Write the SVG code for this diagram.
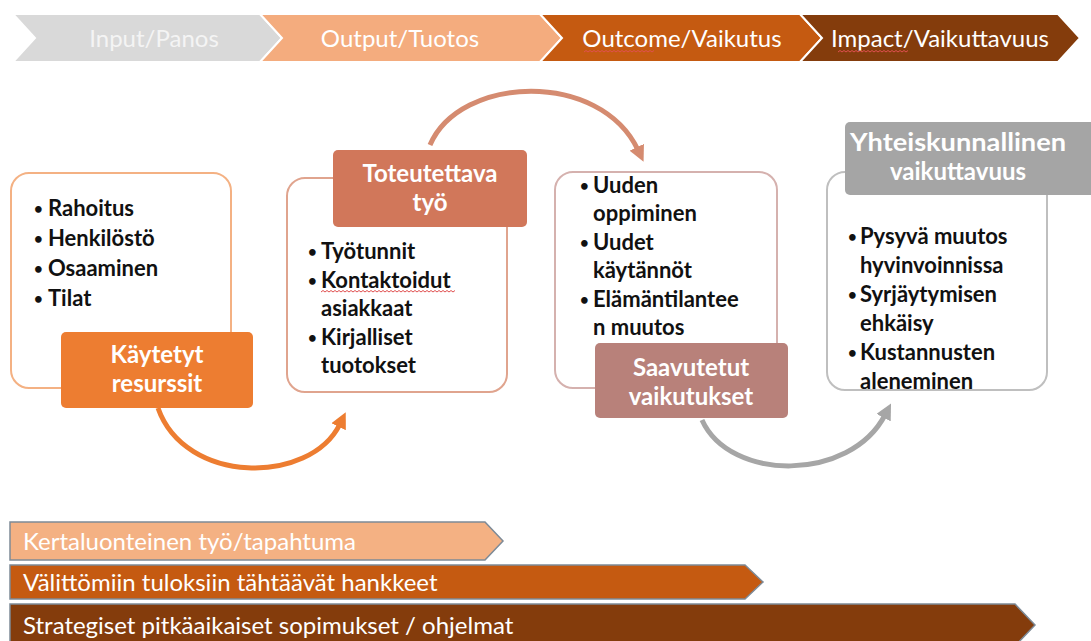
<svg xmlns="http://www.w3.org/2000/svg" width="1091" height="641" viewBox="0 0 1091 641">
<style>
.bar{font-family:Lato,"Open Sans","Liberation Sans",sans-serif;font-size:24px;fill:#ffffff}
.bt{font-family:Lato,"Open Sans","Liberation Sans",sans-serif;font-size:22px;font-weight:bold;fill:#111111}
.dot{font-size:15px}
.lb{font-family:Lato,"Open Sans","Liberation Sans",sans-serif;font-size:24px;font-weight:bold;fill:#ffffff;text-anchor:middle}
.card{fill:#ffffff;stroke-width:2}
.squig{fill:none;stroke:#e05050;stroke-width:1}
.conn{fill:none;stroke-width:5}
</style>
<defs>
<marker id="aOr" markerUnits="userSpaceOnUse" markerWidth="16" markerHeight="16" refX="3" refY="8" orient="auto"><path d="M0,0 L16,8 L0,16 z" fill="#ed7d31"/></marker>
<marker id="aSa" markerUnits="userSpaceOnUse" markerWidth="16" markerHeight="16" refX="3" refY="8" orient="auto"><path d="M0,0 L16,8 L0,16 z" fill="#d58b70"/></marker>
<marker id="aGr" markerUnits="userSpaceOnUse" markerWidth="16" markerHeight="16" refX="3" refY="8" orient="auto"><path d="M0,0 L16,8 L0,16 z" fill="#a6a6a6"/></marker>
</defs>
<rect width="1091" height="641" fill="#ffffff"/>

<g id="phases">
<path d="M13,14 L260,14 L282,38 L260,62 L13,62 L35,38 Z" fill="#d9d9d9" stroke="#ffffff" stroke-width="2"/>
<path d="M260,14 L540,14 L562,38 L540,62 L260,62 L282,38 Z" fill="#f4ac7e" stroke="#ffffff" stroke-width="2"/>
<path d="M540,14 L800,14 L822,38 L800,62 L540,62 L562,38 Z" fill="#c55a11" stroke="#ffffff" stroke-width="2"/>
<path d="M800,14 L1058,14 L1080,38 L1058,62 L800,62 L822,38 Z" fill="#843c0c" stroke="#ffffff" stroke-width="2"/>
<text class="bar" x="154" y="47" text-anchor="middle" style="fill:#f4f4f4">Input/Panos</text>
<text class="bar" x="400" y="47" text-anchor="middle">Output/Tuotos</text>
<text class="bar" x="682" y="47" text-anchor="middle">Outcome/Vaikutus</text>
<text class="bar" x="940" y="47" text-anchor="middle">Impact/Vaikuttavuus</text>
<path class="squig" d="M584,52 l2,-1.5 l2,1.5 l2,-1.5 l2,1.5 l2,-1.5 l2,1.5 l2,-1.5 l2,1.5 l2,-1.5 l2,1.5 l2,-1.5 l2,1.5 l2,-1.5 l2,1.5 l2,-1.5 l2,1.5 l2,-1.5 l2,1.5 l2,-1.5 l2,1.5 l2,-1.5 l2,1.5 l2,-1.5 l2,1.5 l2,-1.5 l2,1.5 l2,-1.5 l2,1.5 l2,-1.5 l2,1.5 l2,-1.5 l2,1.5 l2,-1.5 l2,1.5 l2,-1.5"/>
<path class="squig" d="M838,52 l2,-1.5 l2,1.5 l2,-1.5 l2,1.5 l2,-1.5 l2,1.5 l2,-1.5 l2,1.5 l2,-1.5 l2,1.5 l2,-1.5 l2,1.5 l2,-1.5 l2,1.5 l2,-1.5 l2,1.5 l2,-1.5 l2,1.5 l2,-1.5 l2,1.5 l2,-1.5 l2,1.5 l2,-1.5 l2,1.5 l2,-1.5 l2,1.5 l2,-1.5 l2,1.5 l2,-1.5 l2,1.5 l2,-1.5 l2,1.5 l2,-1.5 l2,1.5 l2,-1.5"/>
</g>

<g id="connectors">
<path class="conn" d="M158,408 C185,485 310,485 340,424" stroke="#ed7d31" marker-end="url(#aOr)"/>
<path class="conn" d="M430,145 C460,75 600,70 638,150" stroke="#d58b70" marker-end="url(#aSa)"/>
<path class="conn" d="M702,420 C730,482 850,482 885,415" stroke="#a6a6a6" marker-end="url(#aGr)"/>
</g>

<g id="node-resources">
<rect class="card" x="11" y="173" width="220" height="215" rx="18" stroke="#f4b183"/>
<text class="bt"><tspan class="dot" x="34" y="214">•</tspan><tspan x="48" y="216">Rahoitus</tspan></text>
<text class="bt"><tspan class="dot" x="34" y="244">•</tspan><tspan x="48" y="246">Henkilöstö</tspan></text>
<text class="bt"><tspan class="dot" x="34" y="274">•</tspan><tspan x="48" y="276">Osaaminen</tspan></text>
<text class="bt"><tspan class="dot" x="34" y="304">•</tspan><tspan x="48" y="306">Tilat</tspan></text>
<rect x="61" y="332" width="192" height="76" rx="5" fill="#ed7d31"/>
<text class="lb" x="157" y="363">Käytetyt</text>
<text class="lb" x="157" y="392">resurssit</text>
</g>

<g id="node-work">
<rect class="card" x="287" y="178" width="220" height="214" rx="18" stroke="#e0a48e"/>
<rect x="333" y="150" width="194" height="77" rx="5" fill="#d1775a"/>
<text class="lb" x="430" y="182">Toteutettava</text>
<text class="lb" x="430" y="211">työ</text>
<text class="bt"><tspan class="dot" x="308" y="257">•</tspan><tspan x="321" y="259">Työtunnit</tspan></text>
<text class="bt"><tspan class="dot" x="308" y="286">•</tspan><tspan x="321" y="288">Kontaktoidut</tspan></text>
<text class="bt" x="321" y="316">asiakkaat</text>
<text class="bt"><tspan class="dot" x="308" y="343">•</tspan><tspan x="321" y="345">Kirjalliset</tspan></text>
<text class="bt" x="321" y="373">tuotokset</text>
<path class="squig" d="M321,292 l2,-1.5 l2,1.5 l2,-1.5 l2,1.5 l2,-1.5 l2,1.5 l2,-1.5 l2,1.5 l2,-1.5 l2,1.5 l2,-1.5 l2,1.5 l2,-1.5 l2,1.5 l2,-1.5 l2,1.5 l2,-1.5 l2,1.5 l2,-1.5 l2,1.5 l2,-1.5 l2,1.5 l2,-1.5 l2,1.5 l2,-1.5 l2,1.5 l2,-1.5 l2,1.5 l2,-1.5 l2,1.5 l2,-1.5 l2,1.5 l2,-1.5 l2,1.5 l2,-1.5 l2,1.5 l2,-1.5 l2,1.5 l2,-1.5 l2,1.5 l2,-1.5 l2,1.5 l2,-1.5 l2,1.5 l2,-1.5 l2,1.5 l2,-1.5 l2,1.5 l2,-1.5 l2,1.5 l2,-1.5 l2,1.5 l2,-1.5 l2,1.5 l2,-1.5 l2,1.5 l2,-1.5 l2,1.5 l2,-1.5 l2,1.5 l2,-1.5 l2,1.5 l2,-1.5 l2,1.5 l2,-1.5 l2,1.5 l2,-1.5"/>
</g>

<g id="node-outcomes">
<rect class="card" x="555" y="172" width="222" height="216" rx="18" stroke="#d5b1ae"/>
<text class="bt"><tspan class="dot" x="580" y="191">•</tspan><tspan x="593" y="193">Uuden</tspan></text>
<text class="bt" x="593" y="221">oppiminen</text>
<text class="bt"><tspan class="dot" x="580" y="248">•</tspan><tspan x="593" y="250">Uudet</tspan></text>
<text class="bt" x="593" y="278">käytännöt</text>
<text class="bt"><tspan class="dot" x="580" y="305">•</tspan><tspan x="593" y="307">Elämäntilantee</tspan></text>
<text class="bt" x="593" y="335">n muutos</text>
<rect x="595" y="343" width="193" height="75" rx="5" fill="#b8817a"/>
<text class="lb" x="691" y="376">Saavutetut</text>
<text class="lb" x="691" y="405">vaikutukset</text>
</g>

<g id="node-impact">
<rect class="card" x="827" y="172" width="220" height="218" rx="18" stroke="#bfbfbf"/>
<rect x="845" y="122" width="252" height="73" rx="5" fill="#a5a5a5"/>
<text class="lb" x="958" y="151" textLength="216" lengthAdjust="spacingAndGlyphs">Yhteiskunnallinen</text>
<text class="lb" x="958" y="180">vaikuttavuus</text>
<text class="bt"><tspan class="dot" x="848" y="242">•</tspan><tspan x="860" y="244">Pysyvä muutos</tspan></text>
<text class="bt" x="860" y="273">hyvinvoinnissa</text>
<text class="bt"><tspan class="dot" x="848" y="300">•</tspan><tspan x="860" y="302">Syrjäytymisen</tspan></text>
<text class="bt" x="860" y="331">ehkäisy</text>
<text class="bt"><tspan class="dot" x="848" y="358">•</tspan><tspan x="860" y="360">Kustannusten</tspan></text>
<text class="bt" x="860" y="389">aleneminen</text>
</g>

<g id="scopes">
<path d="M10,522 L485,522 L503,541 L485,560 L10,560 Z" fill="#f4b183" stroke="#7d8a97" stroke-width="1.5"/>
<path d="M10,565 L745,565 L763,582 L745,599 L10,599 Z" fill="#c55a11" stroke="#7d8a97" stroke-width="1.5"/>
<path d="M10,604 L1015,604 L1035,625 L1015,646 L10,646 Z" fill="#843c0c" stroke="#7d8a97" stroke-width="1.5"/>
<text class="bar" x="23" y="550">Kertaluonteinen työ/tapahtuma</text>
<text class="bar" x="23" y="591">Välittömiin tuloksiin tähtäävät hankkeet</text>
<text class="bar" x="23" y="634">Strategiset pitkäaikaiset sopimukset / ohjelmat</text>
</g>
</svg>
